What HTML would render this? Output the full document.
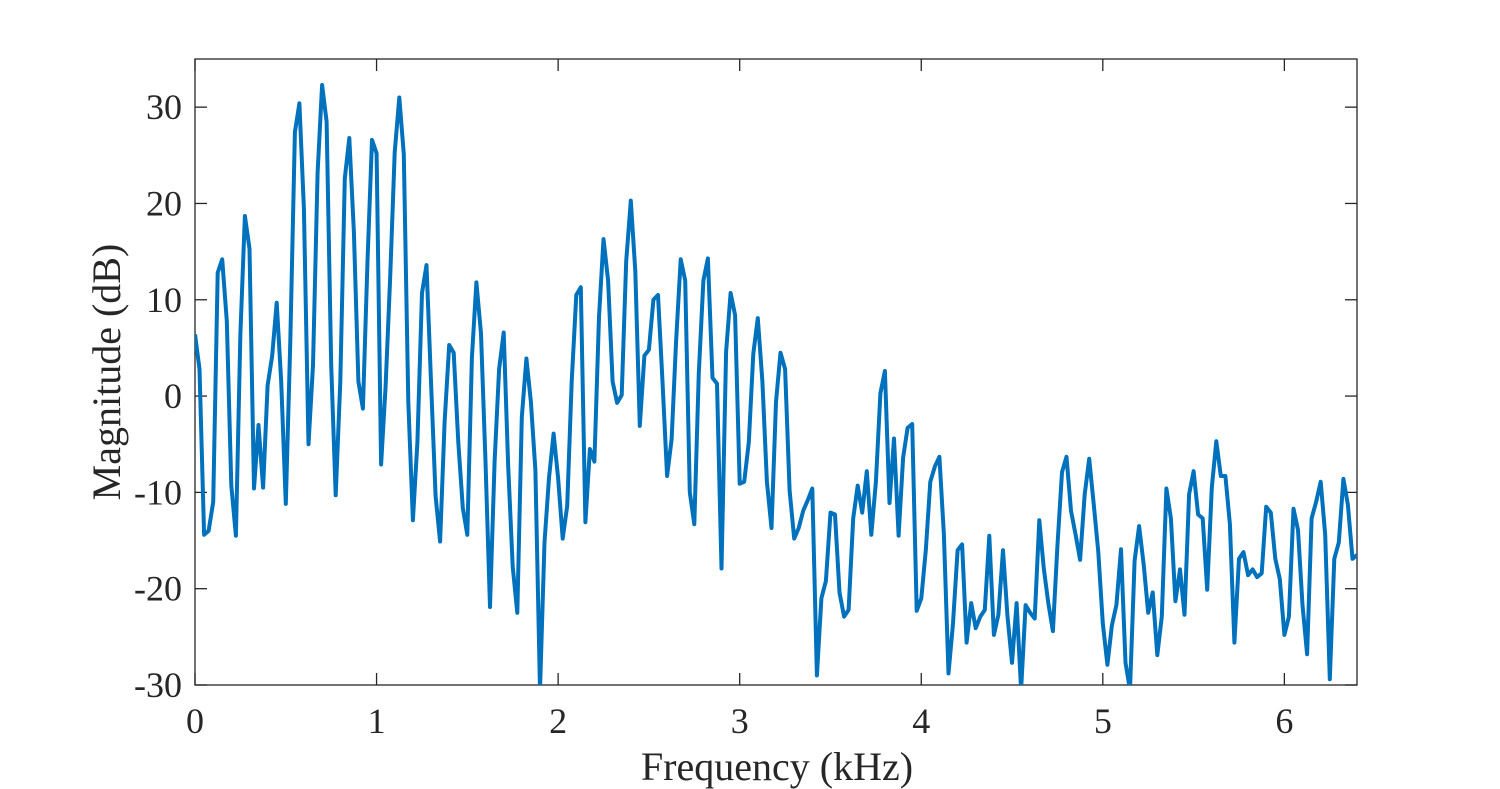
<!DOCTYPE html>
<html><head><meta charset="utf-8"><style>
html,body{margin:0;padding:0;background:#fff;}
svg{display:block;font-family:"Liberation Serif",serif;}
</style></head><body>
<svg id="chart" width="1500" height="789" xmlns="http://www.w3.org/2000/svg">
<defs><clipPath id="clip"><rect x="195" y="59" width="1162" height="626"/></clipPath></defs>
<g id="axes"></g>
<g id="series" clip-path="url(#clip)"></g>
<text x="777" y="780" font-size="40" text-anchor="middle" fill="#262626">Frequency (kHz)</text>
<text transform="translate(120,372) rotate(-90)" font-size="40" text-anchor="middle" fill="#262626">Magnitude (dB)</text>
</svg>
<script>
const freqStep = 0.025;
const xTicks = [0,1,2,3,4,5,6];
const yTicks = [-30,-20,-10,0,10,20,30];
const magnitude = [6.4,2.8,-14.4,-14.0,-11.0,12.8,14.2,7.8,-9.3,-14.5,6.5,18.7,15.3,-9.6,-3.0,-9.5,1.1,4.2,9.7,1.5,
-11.2,5.7,27.4,30.4,19.5,-5.0,3.2,23.2,32.3,28.5,3.2,-10.3,1.5,22.6,26.8,17.0,1.5,-1.3,14.0,26.6,
25.2,-7.1,1.0,12.4,25.3,31.0,25.1,-0.6,-12.9,-4.8,10.7,13.6,1.5,-10.4,-15.1,-2.7,5.3,4.5,-4.8,-11.6,
-14.4,4.0,11.8,6.5,-6.8,-21.9,-6.8,2.8,6.6,-7.3,-17.7,-22.5,-2.2,3.9,-0.6,-7.7,-30.5,-15.2,-8.5,-3.9,
-8.5,-14.8,-11.4,1.5,10.5,11.3,-13.1,-5.5,-6.8,8.2,16.3,12.0,1.5,-0.7,0.1,14.0,20.3,13.0,-3.1,4.2,
4.8,10.0,10.5,1.5,-8.3,-4.5,5.7,14.2,12.0,-10.0,-13.3,2.4,12.0,14.3,1.9,1.3,-17.9,4.6,10.7,8.4,
-9.1,-8.9,-4.8,4.4,8.1,1.5,-8.9,-13.7,-0.6,4.5,2.8,-9.8,-14.8,-13.7,-11.9,-10.8,-9.6,-29.0,-21.0,-19.2,
-12.1,-12.3,-20.4,-22.9,-22.2,-12.7,-9.3,-12.1,-7.8,-14.4,-8.9,0.3,2.6,-11.1,-4.4,-14.5,-6.4,-3.3,-2.9,-22.3,
-21.0,-16.0,-8.9,-7.3,-6.3,-14.4,-28.8,-23.6,-16.0,-15.4,-25.6,-21.5,-24.1,-22.9,-22.2,-14.5,-24.8,-22.7,-16.0,-22.9,
-27.7,-21.5,-30.5,-21.7,-22.5,-23.1,-12.9,-17.9,-21.5,-24.4,-15.6,-7.9,-6.3,-11.9,-14.4,-17.0,-10.2,-6.5,-11.2,-16.2,
-23.6,-27.9,-23.8,-21.7,-15.9,-27.7,-30.5,-17.1,-13.5,-17.5,-22.5,-20.4,-26.9,-22.9,-9.6,-12.7,-21.3,-18.0,-22.7,-10.2,
-7.8,-12.3,-12.7,-20.1,-9.5,-4.7,-8.3,-8.3,-13.3,-25.6,-16.9,-16.2,-18.6,-18.0,-18.8,-18.4,-11.5,-12.1,-16.9,-19.0,
-24.8,-22.9,-11.7,-13.9,-21.7,-26.8,-12.7,-11.0,-8.9,-14.4,-29.4,-16.9,-15.2,-8.6,-11.3,-16.9,-16.5];

const L=195,R=1357,T=59,B=685,xMin=0,xMax=6.4,yMin=-30,yMax=35;
const sx=v=>L+(v-xMin)/(xMax-xMin)*(R-L);
const sy=v=>B-(v-yMin)/(yMax-yMin)*(B-T);
const NS="http://www.w3.org/2000/svg";
const axes=document.getElementById('axes');
function mk(tag,attrs,parent){const e=document.createElementNS(NS,tag);for(const k in attrs)e.setAttribute(k,attrs[k]);parent.appendChild(e);return e;}
const box=mk('rect',{x:L,y:T,width:R-L,height:B-T,fill:'none',stroke:'#262626','stroke-width':1.3},axes);


xTicks.forEach(t=>{
  const x=sx(t);
  const a=mk('line',{x1:x,x2:x,y1:B,y2:B-12,stroke:'#262626','stroke-width':1.3},axes);
  
  
  const b=mk('line',{x1:x,x2:x,y1:T,y2:T+12,stroke:'#262626','stroke-width':1.3},axes);
  
  
  const lb=mk('text',{x:x,y:733,'font-size':36,'text-anchor':'middle',fill:'#262626'},axes);
  lb.textContent=t;
  
  
});
yTicks.forEach(t=>{
  const y=sy(t);
  const a=mk('line',{x1:L,x2:L+12,y1:y,y2:y,stroke:'#262626','stroke-width':1.3},axes);
  
  
  const b=mk('line',{x1:R,x2:R-12,y1:y,y2:y,stroke:'#262626','stroke-width':1.3},axes);
  
  
  const lb=mk('text',{x:182,y:y+12,'font-size':36,'text-anchor':'end',fill:'#262626'},axes);
  lb.textContent=t;
  
  
});
const pts=magnitude.map((v,i)=>sx(i*freqStep).toFixed(1)+','+sy(v).toFixed(1)).join(' ');
const line=mk('polyline',{points:pts,fill:'none',stroke:'#0072BD','stroke-width':4,'stroke-linejoin':'round'},document.getElementById('series'));


</script>
</body></html>
